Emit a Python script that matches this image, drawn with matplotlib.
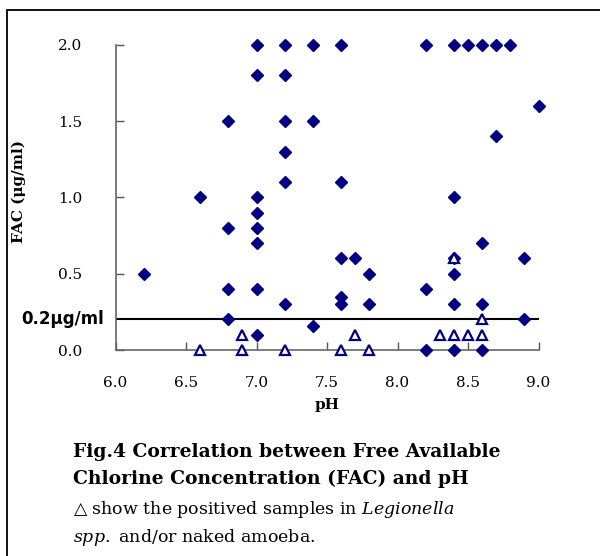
import matplotlib
matplotlib.use('Agg')
import matplotlib.pyplot as plt
import matplotlib.patches as patches
import matplotlib.transforms as mtransforms

# FAC vs pH, filled diamonds = all samples
diamond_ph = [7.0, 7.2, 7.4, 7.6, 8.2, 8.4, 8.5, 8.6, 8.7, 8.8,
              7.0, 7.2, 9.0, 6.8, 7.2, 7.4, 8.7, 7.2, 7.2, 7.6,
              6.6, 7.0, 8.4, 7.0, 6.8, 7.0, 7.0, 8.6,
              7.6, 7.7, 8.4, 8.9, 6.2, 7.8, 8.4, 6.8, 7.0, 8.2, 7.6,
              7.2, 7.6, 7.8, 8.4, 8.6, 6.8, 8.9, 7.4, 7.0, 8.2, 8.4, 8.6]
diamond_fac = [2.0, 2.0, 2.0, 2.0, 2.0, 2.0, 2.0, 2.0, 2.0, 2.0,
               1.8, 1.8, 1.6, 1.5, 1.5, 1.5, 1.4, 1.3, 1.1, 1.1,
               1.0, 1.0, 1.0, 0.9, 0.8, 0.8, 0.7, 0.7,
               0.6, 0.6, 0.6, 0.6, 0.5, 0.5, 0.5, 0.4, 0.4, 0.4, 0.35,
               0.3, 0.3, 0.3, 0.3, 0.3, 0.2, 0.2, 0.16, 0.1, 0.0, 0.0, 0.0]

# positive samples (Legionella spp. and/or naked amoeba)
tri_ph = [8.4, 8.6, 6.9, 7.7, 8.3, 8.4, 8.5, 8.6, 6.6, 6.9, 7.2, 7.6, 7.8]
tri_fac = [0.6, 0.2, 0.1, 0.1, 0.1, 0.1, 0.1, 0.1, 0.0, 0.0, 0.0, 0.0, 0.0]

x_ticks = [6.0, 6.5, 7.0, 7.5, 8.0, 8.5, 9.0]
y_ticks = [0.0, 0.5, 1.0, 1.5, 2.0]
threshold = 0.2

navy = '#000080'
serif = ['DejaVu Serif', 'DejaVu Sans']

plt.rcParams['mathtext.fontset'] = 'custom'
plt.rcParams['mathtext.rm'] = 'DejaVu Serif'
plt.rcParams['mathtext.it'] = 'DejaVu Serif:italic'

fig = plt.figure(figsize=(6, 5.56), dpi=100)
ax = fig.add_axes([0.1925, 0.3705, 0.705, 0.5486])

ax.axhline(threshold, color='black', lw=1.5, zorder=2)
ax.plot(diamond_ph, diamond_fac, linestyle='none', marker='D', ms=6.2,
        color=navy, clip_on=False, zorder=3)
ax.plot(tri_ph, tri_fac, linestyle='none', marker='^', ms=7, mew=1.6,
        mfc='white', mec=navy, clip_on=False, zorder=4)

ax.set_xlim(6.0, 9.0)
ax.set_ylim(0.0, 2.0)
ax.set_xticks(x_ticks)
ax.set_yticks(y_ticks)
ax.set_xticklabels([f'{v:.1f}' for v in x_ticks], family=serif, fontsize=11)
ax.set_yticklabels([f'{v:.1f}' for v in y_ticks], family=serif, fontsize=11)
ax.tick_params(direction='in', length=6, width=1, colors='#555555', labelcolor='black')
ax.tick_params(axis='x', pad=19)
ax.tick_params(axis='y', pad=24)

for s in ['top', 'right']:
    ax.spines[s].set_visible(False)
for s in ['left', 'bottom']:
    ax.spines[s].set_color('#666666')
    ax.spines[s].set_linewidth(1.2)

ax.set_xlabel('pH', family=serif, fontweight='bold', fontsize=11)
ax.xaxis.set_label_coords(0.5, -0.157)
ax.set_ylabel('FAC (μg/ml)', family=serif, fontweight='bold', fontsize=11)
ax.yaxis.set_label_coords(-0.212, 0.52)

trans = mtransforms.blended_transform_factory(ax.transAxes, ax.transData)
ax.text(-0.028, threshold, '0.2μg/ml', transform=trans, ha='right', va='center',
        fontsize=12, fontweight='bold', family='DejaVu Sans')

# caption
fig.text(0.122, 1 - 452 / 556, 'Fig.4 Correlation between Free Available',
         family=serif, fontweight='bold', fontsize=13.5, va='center')
fig.text(0.122, 1 - 479 / 556, 'Chlorine Concentration (FAC) and pH',
         family=serif, fontweight='bold', fontsize=13.5, va='center')
fig.text(0.122, 1 - 509 / 556, r'△ show the positived samples in $\mathit{Legionella}$',
         family=serif, fontsize=12.5, va='center')
fig.text(0.122, 1 - 537 / 556, r'$\mathit{spp.}$ and/or naked amoeba.',
         family=serif, fontsize=12.5, va='center')

# outer frame
fig.patches.append(patches.Rectangle((7 / 600, -0.05), 1.1, 1 - 10 / 556 + 0.05,
                                     transform=fig.transFigure, fill=False,
                                     edgecolor='black', lw=1.3))

fig.savefig('out.png', dpi=100)
